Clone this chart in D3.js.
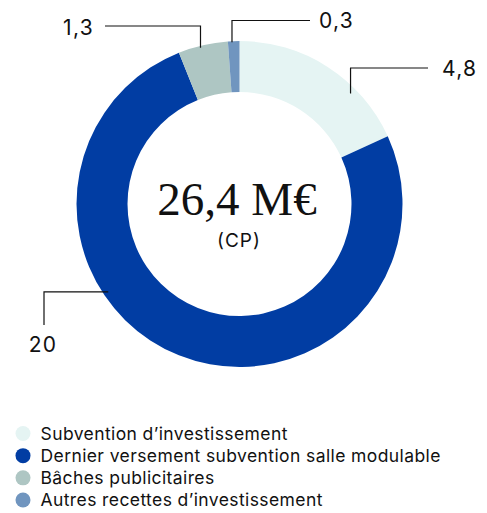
<!DOCTYPE html>
<html><head><meta charset="utf-8">
<script src="https://cdn.jsdelivr.net/npm/d3@7"></script>
<style>html,body{margin:0;padding:0;background:#fff;}svg{display:block;}</style>
</head><body>
<svg id="c" width="487" height="513"></svg>
<script>
const categories = ["Subvention d’investissement","Dernier versement subvention salle modulable","Bâches publicitaires","Autres recettes d’investissement"];
const values = [4.8, 20, 1.3, 0.3];
const valueLabels = ["4,8", "20", "1,3", "0,3"];
const colors = ["#E5F4F3", "#013DA3", "#AEC6C3", "#7095BF"];
const totalLabel = "26,4 M€";
const subLabel = "(CP)";

const svg = d3.select("#c");
const cx = 239.5, cy = 204, rOut = 163, rIn = 112;
const sans = "Inter, 'Liberation Sans', Arial, sans-serif";

const pie = d3.pie().value(d => d).sort(null);
const arcs = pie(values);
const arc = d3.arc().innerRadius(rIn).outerRadius(rOut);
const g = svg.append("g").attr("transform", `translate(${cx},${cy})`);
g.selectAll("path").data(arcs).join("path")
  .attr("d", arc).attr("fill", (d, i) => colors[i]);

const leaders = [
  {frac: 0.69, r: 156.6, elbowY: 68, endX: 428, lx: 442, ly: 76, anchor: "start"},
  {frac: 0.626, r: 158, elbowX: 44, endY: 325, lx: 43, ly: 352, anchor: "middle"},
  {frac: 0.44, r: 161, elbowY: 26, endX: 105, lx: 94, ly: 35, anchor: "end"},
  {frac: 0.35, r: 162, elbowY: 20.5, endX: 310, lx: 319, ly: 28, anchor: "start"}
];
arcs.forEach((a, i) => {
  const L = leaders[i];
  const ang = a.startAngle + (a.endAngle - a.startAngle) * L.frac;
  const px = cx + L.r * Math.sin(ang), py = cy - L.r * Math.cos(ang);
  const pts = L.elbowY !== undefined
    ? [[px, py], [px, L.elbowY], [L.endX, L.elbowY]]
    : [[px, py], [L.elbowX, py], [L.elbowX, L.endY]];
  svg.append("path").attr("d", d3.line()(pts))
    .attr("fill", "none").attr("stroke", "#111").attr("stroke-width", 1.2);
  svg.append("text").attr("x", L.lx).attr("y", L.ly)
    .attr("text-anchor", L.anchor)
    .attr("font-family", sans).attr("font-size", 21).attr("letter-spacing", 1.3)
    .attr("fill", "#111")
    .text(valueLabels[i]);
});

svg.append("text").attr("x", 237).attr("y", 215).attr("text-anchor", "middle")
  .attr("font-family", "'Liberation Serif', 'Times New Roman', serif")
  .attr("font-size", 47).attr("fill", "#111").text(totalLabel);
svg.append("text").attr("x", 239).attr("y", 247).attr("text-anchor", "middle")
  .attr("font-family", sans).attr("font-size", 19).attr("letter-spacing", 1)
  .attr("fill", "#111").text(subLabel);

const leg = svg.append("g");
const rowY = d3.scaleLinear().domain([0, 3]).range([433.5, 500]);
categories.forEach((c, i) => {
  leg.append("circle").attr("cx", 23).attr("cy", rowY(i)).attr("r", 7.5).attr("fill", colors[i]);
  leg.append("text").attr("x", 40.5).attr("y", rowY(i) + 6)
    .attr("font-family", sans).attr("font-size", 17.5).attr("letter-spacing", 0.4)
    .attr("fill", "#111").text(c);
});
</script>
</body></html>
